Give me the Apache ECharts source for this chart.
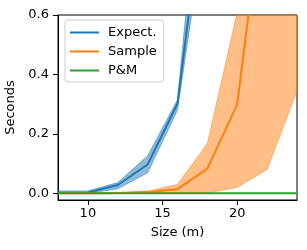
<!DOCTYPE html>
<html>
<head>
<meta charset="utf-8">
<script src="https://cdn.jsdelivr.net/npm/echarts@6/dist/echarts.min.js"></script>
<style>
html,body{margin:0;padding:0;background:#fff;}
#c{width:307px;height:250px;}
</style>
</head>
<body>
<div id="c"></div>
<script>
// ---- data ----
const sizes = [8, 10, 12, 14, 16, 18, 20, 22, 24];
const expectMean = [0.002, 0.003, 0.028, 0.097, 0.302, 1.10, 3.5, 11, 40];
const expectLow  = [0.000, 0.000, 0.015, 0.069, 0.280, 0.96, 3.0, 9, 35];
const expectHigh = [0.008, 0.008, 0.036, 0.126, 0.315, 1.35, 4.0, 13, 45];
const sampleMean = [0.000, 0.000, 0.001, 0.004, 0.014, 0.083, 0.30, 1.10, 3.0];
const sampleLow  = [0.000, 0.000, 0.000, 0.001, 0.002, 0.001, 0.02, 0.08, 0.345];
const sampleHigh = [0.001, 0.001, 0.002, 0.007, 0.030, 0.168, 0.61, 2.5, 6.0];
const pmMean     = [0, 0, 0, 0, 0, 0, 0, 0, 0];
const xTicks = [10, 15, 20];
const yTicks = [0, 0.2, 0.4, 0.6];
const seriesNames = ['Expect.', 'Sample', 'P&M'];

const FONT = 'DejaVu Sans';
const C_BLUE = '#1f77b4', C_ORANGE = '#ff7f0e', C_GREEN = '#2ca02c';

function pairs(ys) { return sizes.map((x, i) => [x, ys[i]]); }

function bandSeries(low, high, fill) {
  return {
    type: 'custom',
    clip: true,
    silent: true,
    z: 1,
    data: [[sizes[0], low[0]]],
    encode: { x: 0, y: 1 },
    renderItem: function (params, api) {
      const pts = [];
      for (let i = 0; i < sizes.length; i++) pts.push(api.coord([sizes[i], high[i]]));
      for (let i = sizes.length - 1; i >= 0; i--) pts.push(api.coord([sizes[i], low[i]]));
      const cs = params.coordSys;
      return {
        type: 'polygon',
        shape: { points: pts },
        style: { fill: fill, stroke: fill, lineWidth: 1 },
        clipPath: { type: 'rect', shape: { x: cs.x, y: cs.y, width: cs.width, height: cs.height } }
      };
    }
  };
}

function lineSeries(name, ys, color, z) {
  return {
    name: name,
    type: 'line',
    data: pairs(ys),
    symbol: 'none',
    clip: true,
    z: z,
    lineStyle: { color: color, width: 2 },
    itemStyle: { color: color },
    emphasis: { disabled: true }
  };
}

const chart = echarts.init(document.getElementById('c'), null, { renderer: 'canvas' });
chart.setOption({
  animation: false,
  textStyle: { fontFamily: FONT },
  grid: {
    left: 58, top: 15, right: 10, bottom: 50,
    show: true, borderColor: '#000', borderWidth: 1, backgroundColor: 'transparent',
    containLabel: false, outerBoundsMode: 'none'
  },
  legend: {
    data: seriesNames.map((n, i) => ({ name: n, icon: 'rect', itemStyle: { color: [C_BLUE, C_ORANGE, C_GREEN][i] } })),
    orient: 'vertical',
    left: 65, top: 20,
    itemWidth: 29, itemHeight: 2, itemGap: 6,
    padding: [6, 7, 5, 5],
    borderColor: '#cccccc', borderWidth: 1, borderRadius: 3,
    backgroundColor: 'rgba(255,255,255,0.8)',
    textStyle: { fontFamily: FONT, fontSize: 13, color: '#000', padding: [0, 0, 0, 4] },
    selectedMode: false
  },
  xAxis: {
    type: 'value', min: 8, max: 24,
    name: 'Size (m)', nameLocation: 'middle', nameGap: 26,
    nameTextStyle: { fontFamily: FONT, fontSize: 13, color: '#000' },
    axisLine: { show: true, onZero: false, lineStyle: { color: '#000', width: 1 } },
    axisTick: { show: true, length: 5, lineStyle: { color: '#000' }, customValues: xTicks },
    axisLabel: { fontFamily: FONT, fontSize: 13, color: '#000', margin: 7, customValues: xTicks,
                 formatter: v => String(v) },
    splitLine: { show: false }
  },
  yAxis: {
    type: 'value', min: -0.0225, max: 0.6,
    name: 'Seconds', nameLocation: 'middle', nameGap: 37,
    nameTextStyle: { fontFamily: FONT, fontSize: 13, color: '#000' },
    axisLine: { show: true, onZero: false, lineStyle: { color: '#000', width: 1 } },
    axisTick: { show: true, length: 5, lineStyle: { color: '#000' }, customValues: yTicks },
    axisLabel: { fontFamily: FONT, fontSize: 13, color: '#000', margin: 9, customValues: yTicks,
                 formatter: v => v.toFixed(1) },
    splitLine: { show: false }
  },
  series: [
    bandSeries(expectLow, expectHigh, 'rgba(31,119,180,0.5)'),
    lineSeries('Expect.', expectMean, C_BLUE, 3),
    bandSeries(sampleLow, sampleHigh, 'rgba(255,127,14,0.5)'),
    lineSeries('Sample', sampleMean, C_ORANGE, 4),
    lineSeries('P&M', pmMean, C_GREEN, 5)
  ]
});
</script>
</body>
</html>
